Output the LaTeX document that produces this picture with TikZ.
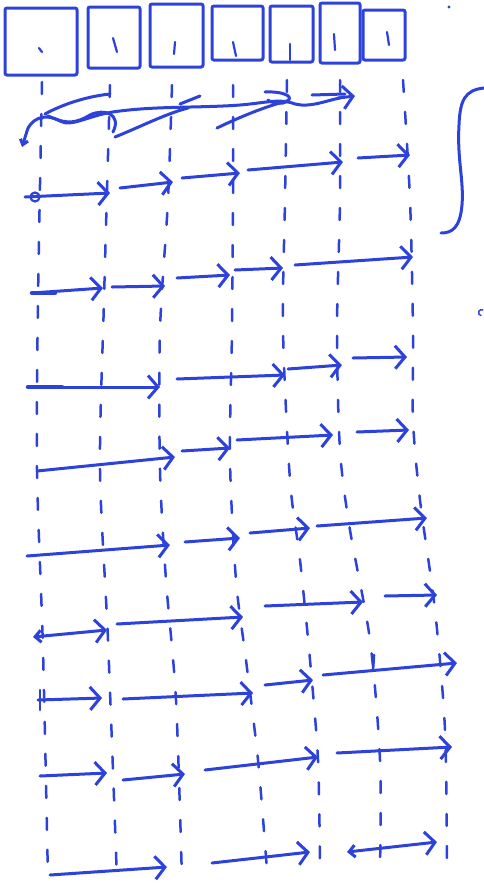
\documentclass[tikz,border=0pt]{standalone}
\usetikzlibrary{arrows.meta}
\definecolor{pen}{RGB}{44,66,218}
\tikzset{
  ink/.style={draw=pen, line width=3pt, line cap=round, line join=round},
  harrow/.style={ink, -{Straight Barb[length=10pt,width=23pt,line width=3pt]}},
  darrow/.style={ink, {Straight Barb[length=6pt,width=12pt,line width=3pt]}-{Straight Barb[length=10pt,width=23pt,line width=3pt]}},
  sq/.style={draw=pen, line width=3pt, rectangle, inner sep=0pt, rounded corners=2pt},
  col/.style={draw=pen, line width=2.5pt, line cap=round, dash pattern=on 12pt off 20pt},
  tick/.style={draw=pen, line width=2.2pt, line cap=round}
}
\newcommand\harr[4][harrow]{\coordinate (#2a) at (#3); \coordinate (#2b) at (#4); \draw[#1] (#2a) -- (#2b);}
\begin{document}
\begin{tikzpicture}[x=1pt,y=-1pt]
\useasboundingbox (0,0) rectangle (484,895);
% top squares
\node[sq, minimum width=72pt, minimum height=67pt] (s1) at (41,41.5) {};
\node[sq, minimum width=52pt, minimum height=61pt] (s2) at (114,37.5) {};
\node[sq, minimum width=53pt, minimum height=63pt] (s3) at (176.5,35.5) {};
\node[sq, minimum width=51pt, minimum height=54pt] (s4) at (237.5,33) {};
\node[sq, minimum width=43pt, minimum height=56pt] (s5) at (291.5,34) {};
\node[sq, minimum width=40pt, minimum height=60pt] (s6) at (340,33) {};
\node[sq, minimum width=42pt, minimum height=50pt] (s7) at (384,35) {};
% ticks inside squares
\draw[tick] (39,48) -- (42,52);
\draw[tick] (113,38) -- (117,52);
\draw[tick] (175,42) -- (174,54);
\draw[tick] (233,42) -- (236,56);
\draw[tick] (290,44) -- (290,60);
\draw[tick] (334,34) -- (335,50);
\draw[tick] (387,32) -- (389,45);
% dashed columns
\draw[col] plot[smooth] coordinates {(42,82) (38,300) (37,470) (43,650) (48,880)};
\draw[col] plot[smooth] coordinates {(110,85) (104,300) (100,470) (108,640) (117,880)};
\draw[col] plot[smooth] coordinates {(172,85) (168,200) (160,330) (160,470) (166,580) (176,700) (182,880)};
\draw[col] plot[smooth] coordinates {(233,85) (233,200) (232,330) (230,460) (236,580) (246,660) (258,760) (267,870)};
\draw[col] plot[smooth] coordinates {(287,80) (285,200) (283,330) (290,480) (300,560) (310,660) (318,760) (320,870)};
\draw[col] plot[smooth] coordinates {(340,80) (340,200) (337,330) (340,450) (350,530) (370,640) (380,760) (380,870)};
\draw[col] plot[smooth] coordinates {(403,80) (410,200) (413,330) (413,420) (420,500) (435,610) (445,730) (447,870)};
% row 1 scribble
\coordinate (r1a) at (22,147);
\coordinate (r1b) at (355,96);
\draw[ink] (28,128) .. controls (35,116) and (48,114) .. (60,121)
  .. controls (72,128) and (90,114) .. (120,111)
  .. controls (160,106) and (200,108) .. (240,105)
  .. controls (265,103) and (280,98) .. (295,104)
  .. controls (310,108) and (328,100) .. (340,98);
\draw[ink, -{Straight Barb[length=5pt,width=8pt,line width=3pt]}] (28,128) -- (r1a);
\draw[harrow] (338,98) -- (r1b);
\draw[ink] (45,114) .. controls (65,103) and (90,96) .. (110,94);
\draw[ink] (48,116) .. controls (62,122) and (72,126) .. (90,115) .. controls (104,108) and (122,114) .. (113,132);
\draw[ink] (115,137) .. controls (140,127) and (165,114) .. (188,108);
\draw[ink] (180,104) -- (200,96);
\draw[ink] (217,128) .. controls (242,116) and (267,106) .. (287,101);
\draw[ink] (265,92) .. controls (285,91) and (298,98) .. (283,103) .. controls (276,104) and (270,102) .. (268,100);
\draw[ink] (312,95) -- (345,94);
% row 2
\node[ink, circle, minimum size=9pt, inner sep=0pt, line width=2.2pt] (c2) at (35,197) {};
\harr{r2p}{25,197}{110,193}
\harr{r2q}{120,188}{173,182}
\harr{r2r}{182,178}{240,173}
\harr{r2s}{248,170}{343,162}
\harr{r2t}{358,158}{410,155}
% row 3
\draw[ink, line width=4.5pt] (32,293) -- (55,293);
\harr{r3p}{32,293}{103,288}
\harr{r3q}{112,287}{165,286}
\harr{r3r}{177,278}{230,275}
\harr{r3s}{235,270}{283,268}
\harr{r3t}{295,265}{413,257}
% row 4
\draw[ink, line width=4.5pt] (28,387) -- (62,387);
\harr{r4p}{28,387}{160,387}
\harr{r4q}{177,379}{285,375}
\harr{r4r}{288,369}{342,365}
\harr{r4s}{353,358}{407,357}
% row 5
\harr{r5p}{37,471}{175,457}
\harr{r5q}{182,451}{230,448}
\harr{r5r}{237,440}{333,435}
\harr{r5s}{357,432}{409,430}
% row 6
\harr{r6p}{27,556}{170,545}
\harr{r6q}{185,542}{240,538}
\harr{r6r}{250,533}{310,528}
\harr{r6s}{317,526}{427,518}
% row 7
\harr[darrow]{r7p}{33,637}{107,630}
\harr{r7q}{117,624}{243,617}
\harr{r7r}{265,606}{363,602}
\harr{r7s}{385,596}{437,595}
% row 8
\draw[tick, line width=2.6pt] (40,690) -- (40,710);
\harr{r8p}{38,700}{102,698}
\harr{r8q}{123,699}{253,693}
\harr{r8r}{265,685}{313,680}
\harr{r8s}{323,675}{457,663}
\draw[tick, line width=2.6pt] (374,655) -- (373,670);
% row 9
\harr{r9p}{40,776}{107,773}
\harr{r9q}{123,780}{185,774}
\harr{r9r}{205,770}{318,757}
\harr{r9s}{337,753}{452,747}
% row 10
\harr{r10p}{50,875}{167,867}
\harr{r10q}{212,863}{310,852}
\harr[darrow]{r10r}{347,852}{437,842}
% brace on the right
\coordinate (b1) at (484,88);
\coordinate (b2) at (441,233);
\draw[ink] (b1) .. controls (465,90) and (460,100) .. (459,125) .. controls (457,160) and (464,180) .. (462,205) .. controls (460,228) and (452,233) .. (b2);
% stray marks
\fill[pen] (449,7) circle (1.6pt);
\draw[tick, line width=1.4pt] (483,310) arc (60:260:3pt);
\end{tikzpicture}
\end{document}
